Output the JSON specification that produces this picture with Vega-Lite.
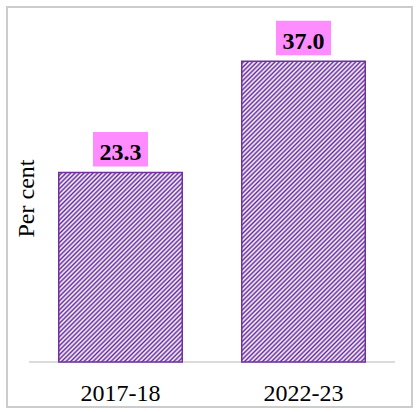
{
  "$schema": "https://vega.github.io/schema/vega-lite/v6.json",
  "autosize": "none",
  "padding": {"left": 7, "top": 7, "right": 8, "bottom": 5},
  "width": 405,
  "height": 400,
  "data": {
    "values": [
      {"year": "2017-18", "value": 23.3},
      {"year": "2022-23", "value": 37.0}
    ]
  },
  "encoding": {
    "x": {
      "field": "year",
      "type": "nominal",
      "title": null,
      "scale": {"paddingInner": 0, "paddingOuter": 0.1066, "align": 0.564},
      "axis": {
        "domain": false,
        "ticks": false,
        "labelAngle": 0,
        "labelPadding": 0,
        "labelBaseline": "alphabetic",
        "offset": -6.5,
        "labelFont": "Liberation Serif",
        "labelFontSize": 24,
        "labelColor": "#000000"
      }
    }
  },
  "layer": [
    {
      "mark": {"type": "bar", "width": {"band": 1}, "fill": null, "stroke": "#d0d0d0", "strokeWidth": 1.5},
      "encoding": {
        "y": {
          "datum": 0,
          "type": "quantitative",
          "scale": {"domain": [-5.535, 43.665], "nice": false, "zero": false},
          "axis": {
            "title": "Per cent",
            "domain": false,
            "ticks": false,
            "labels": false,
            "grid": false,
            "titleFont": "Liberation Serif",
            "titleFontSize": 24,
            "titleFontWeight": "normal",
            "titleColor": "#000000",
            "titleAngle": -90,
            "titleBaseline": "alphabetic",
            "titleAlign": "center",
            "titleX": 26,
            "titleY": 191
          }
        },
        "y2": {"datum": 0}
      }
    },
    {
      "mark": {
        "type": "bar",
        "width": {"band": 0.675},
        "fill": {
          "gradient": "linear",
          "x1": 0, "y1": 0, "x2": 0.458, "y2": 1.206,
          "stops": [
            {"offset":0,"color":"#66289c"},{"offset":0.005,"color":"#fff"},{"offset":0.01,"color":"#66289c"},{"offset":0.015,"color":"#fff"},
            {"offset":0.02,"color":"#66289c"},{"offset":0.025,"color":"#fff"},{"offset":0.03,"color":"#66289c"},{"offset":0.035,"color":"#fff"},
            {"offset":0.04,"color":"#66289c"},{"offset":0.045,"color":"#fff"},{"offset":0.05,"color":"#66289c"},{"offset":0.055,"color":"#fff"},
            {"offset":0.06,"color":"#66289c"},{"offset":0.065,"color":"#fff"},{"offset":0.07,"color":"#66289c"},{"offset":0.075,"color":"#fff"},
            {"offset":0.08,"color":"#66289c"},{"offset":0.085,"color":"#fff"},{"offset":0.09,"color":"#66289c"},{"offset":0.095,"color":"#fff"},
            {"offset":0.1,"color":"#66289c"},{"offset":0.105,"color":"#fff"},{"offset":0.11,"color":"#66289c"},{"offset":0.115,"color":"#fff"},
            {"offset":0.12,"color":"#66289c"},{"offset":0.125,"color":"#fff"},{"offset":0.13,"color":"#66289c"},{"offset":0.135,"color":"#fff"},
            {"offset":0.14,"color":"#66289c"},{"offset":0.145,"color":"#fff"},{"offset":0.15,"color":"#66289c"},{"offset":0.155,"color":"#fff"},
            {"offset":0.16,"color":"#66289c"},{"offset":0.165,"color":"#fff"},{"offset":0.17,"color":"#66289c"},{"offset":0.175,"color":"#fff"},
            {"offset":0.18,"color":"#66289c"},{"offset":0.185,"color":"#fff"},{"offset":0.19,"color":"#66289c"},{"offset":0.195,"color":"#fff"},
            {"offset":0.2,"color":"#66289c"},{"offset":0.205,"color":"#fff"},{"offset":0.21,"color":"#66289c"},{"offset":0.215,"color":"#fff"},
            {"offset":0.22,"color":"#66289c"},{"offset":0.225,"color":"#fff"},{"offset":0.23,"color":"#66289c"},{"offset":0.235,"color":"#fff"},
            {"offset":0.24,"color":"#66289c"},{"offset":0.245,"color":"#fff"},{"offset":0.25,"color":"#66289c"},{"offset":0.255,"color":"#fff"},
            {"offset":0.26,"color":"#66289c"},{"offset":0.265,"color":"#fff"},{"offset":0.27,"color":"#66289c"},{"offset":0.275,"color":"#fff"},
            {"offset":0.28,"color":"#66289c"},{"offset":0.285,"color":"#fff"},{"offset":0.29,"color":"#66289c"},{"offset":0.295,"color":"#fff"},
            {"offset":0.3,"color":"#66289c"},{"offset":0.305,"color":"#fff"},{"offset":0.31,"color":"#66289c"},{"offset":0.315,"color":"#fff"},
            {"offset":0.32,"color":"#66289c"},{"offset":0.325,"color":"#fff"},{"offset":0.33,"color":"#66289c"},{"offset":0.335,"color":"#fff"},
            {"offset":0.34,"color":"#66289c"},{"offset":0.345,"color":"#fff"},{"offset":0.35,"color":"#66289c"},{"offset":0.355,"color":"#fff"},
            {"offset":0.36,"color":"#66289c"},{"offset":0.365,"color":"#fff"},{"offset":0.37,"color":"#66289c"},{"offset":0.375,"color":"#fff"},
            {"offset":0.38,"color":"#66289c"},{"offset":0.385,"color":"#fff"},{"offset":0.39,"color":"#66289c"},{"offset":0.395,"color":"#fff"},
            {"offset":0.4,"color":"#66289c"},{"offset":0.405,"color":"#fff"},{"offset":0.41,"color":"#66289c"},{"offset":0.415,"color":"#fff"},
            {"offset":0.42,"color":"#66289c"},{"offset":0.425,"color":"#fff"},{"offset":0.43,"color":"#66289c"},{"offset":0.435,"color":"#fff"},
            {"offset":0.44,"color":"#66289c"},{"offset":0.445,"color":"#fff"},{"offset":0.45,"color":"#66289c"},{"offset":0.455,"color":"#fff"},
            {"offset":0.46,"color":"#66289c"},{"offset":0.465,"color":"#fff"},{"offset":0.47,"color":"#66289c"},{"offset":0.475,"color":"#fff"},
            {"offset":0.48,"color":"#66289c"},{"offset":0.485,"color":"#fff"},{"offset":0.49,"color":"#66289c"},{"offset":0.495,"color":"#fff"},
            {"offset":0.5,"color":"#66289c"},{"offset":0.505,"color":"#fff"},{"offset":0.51,"color":"#66289c"},{"offset":0.515,"color":"#fff"},
            {"offset":0.52,"color":"#66289c"},{"offset":0.525,"color":"#fff"},{"offset":0.53,"color":"#66289c"},{"offset":0.535,"color":"#fff"},
            {"offset":0.54,"color":"#66289c"},{"offset":0.545,"color":"#fff"},{"offset":0.55,"color":"#66289c"},{"offset":0.555,"color":"#fff"},
            {"offset":0.56,"color":"#66289c"},{"offset":0.565,"color":"#fff"},{"offset":0.57,"color":"#66289c"},{"offset":0.575,"color":"#fff"},
            {"offset":0.58,"color":"#66289c"},{"offset":0.585,"color":"#fff"},{"offset":0.59,"color":"#66289c"},{"offset":0.595,"color":"#fff"},
            {"offset":0.6,"color":"#66289c"},{"offset":0.605,"color":"#fff"},{"offset":0.61,"color":"#66289c"},{"offset":0.615,"color":"#fff"},
            {"offset":0.62,"color":"#66289c"},{"offset":0.625,"color":"#fff"},{"offset":0.63,"color":"#66289c"},{"offset":0.635,"color":"#fff"},
            {"offset":0.64,"color":"#66289c"},{"offset":0.645,"color":"#fff"},{"offset":0.65,"color":"#66289c"},{"offset":0.655,"color":"#fff"},
            {"offset":0.66,"color":"#66289c"},{"offset":0.665,"color":"#fff"},{"offset":0.67,"color":"#66289c"},{"offset":0.675,"color":"#fff"},
            {"offset":0.68,"color":"#66289c"},{"offset":0.685,"color":"#fff"},{"offset":0.69,"color":"#66289c"},{"offset":0.695,"color":"#fff"},
            {"offset":0.7,"color":"#66289c"},{"offset":0.705,"color":"#fff"},{"offset":0.71,"color":"#66289c"},{"offset":0.715,"color":"#fff"},
            {"offset":0.72,"color":"#66289c"},{"offset":0.725,"color":"#fff"},{"offset":0.73,"color":"#66289c"},{"offset":0.735,"color":"#fff"},
            {"offset":0.74,"color":"#66289c"},{"offset":0.745,"color":"#fff"},{"offset":0.75,"color":"#66289c"},{"offset":0.755,"color":"#fff"},
            {"offset":0.76,"color":"#66289c"},{"offset":0.765,"color":"#fff"},{"offset":0.77,"color":"#66289c"},{"offset":0.775,"color":"#fff"},
            {"offset":0.78,"color":"#66289c"},{"offset":0.785,"color":"#fff"},{"offset":0.79,"color":"#66289c"},{"offset":0.795,"color":"#fff"},
            {"offset":0.8,"color":"#66289c"},{"offset":0.805,"color":"#fff"},{"offset":0.81,"color":"#66289c"},{"offset":0.815,"color":"#fff"},
            {"offset":0.82,"color":"#66289c"},{"offset":0.825,"color":"#fff"},{"offset":0.83,"color":"#66289c"},{"offset":0.835,"color":"#fff"},
            {"offset":0.84,"color":"#66289c"},{"offset":0.845,"color":"#fff"},{"offset":0.85,"color":"#66289c"},{"offset":0.855,"color":"#fff"},
            {"offset":0.86,"color":"#66289c"},{"offset":0.865,"color":"#fff"},{"offset":0.87,"color":"#66289c"},{"offset":0.875,"color":"#fff"},
            {"offset":0.88,"color":"#66289c"},{"offset":0.885,"color":"#fff"},{"offset":0.89,"color":"#66289c"},{"offset":0.895,"color":"#fff"},
            {"offset":0.9,"color":"#66289c"},{"offset":0.905,"color":"#fff"},{"offset":0.91,"color":"#66289c"},{"offset":0.915,"color":"#fff"},
            {"offset":0.92,"color":"#66289c"},{"offset":0.925,"color":"#fff"},{"offset":0.93,"color":"#66289c"},{"offset":0.935,"color":"#fff"},
            {"offset":0.94,"color":"#66289c"},{"offset":0.945,"color":"#fff"},{"offset":0.95,"color":"#66289c"},{"offset":0.955,"color":"#fff"},
            {"offset":0.96,"color":"#66289c"},{"offset":0.965,"color":"#fff"},{"offset":0.97,"color":"#66289c"},{"offset":0.975,"color":"#fff"},
            {"offset":0.98,"color":"#66289c"},{"offset":0.985,"color":"#fff"},{"offset":0.99,"color":"#66289c"},{"offset":0.995,"color":"#fff"},
            {"offset":1,"color":"#66289c"}
          ]
        }
      },
      "encoding": {
        "y": {"datum": 0, "type": "quantitative"},
        "y2": {"datum": 40}
      }
    },
    {
      "mark": {"type": "bar", "width": {"band": 0.69}, "fill": "#ffffff", "stroke": null},
      "encoding": {
        "y": {"field": "value", "type": "quantitative"},
        "y2": {"datum": 40.5}
      }
    },
    {
      "mark": {"type": "bar", "width": {"band": 0.675}, "fill": null, "stroke": "#7030a0", "strokeWidth": 1.5},
      "encoding": {
        "y": {"field": "value", "type": "quantitative"},
        "y2": {"datum": 0}
      }
    },
    {
      "mark": {"type": "bar", "width": 55, "fill": "#ff8cff", "yOffset": -40.5, "y2Offset": -6},
      "encoding": {
        "y": {"field": "value", "type": "quantitative"},
        "y2": {"field": "value"}
      }
    },
    {
      "mark": {
        "type": "text",
        "font": "Liberation Serif",
        "fontSize": 24,
        "fontWeight": "bold",
        "color": "#000000",
        "align": "center",
        "baseline": "alphabetic",
        "yOffset": -12.5
      },
      "encoding": {
        "y": {"field": "value", "type": "quantitative"},
        "text": {"field": "value", "type": "quantitative", "format": ".1f"}
      }
    }
  ],
  "config": {
    "view": {"stroke": "#cccccc", "strokeWidth": 2},
    "bar": {"cornerRadius": 0}
  }
}
